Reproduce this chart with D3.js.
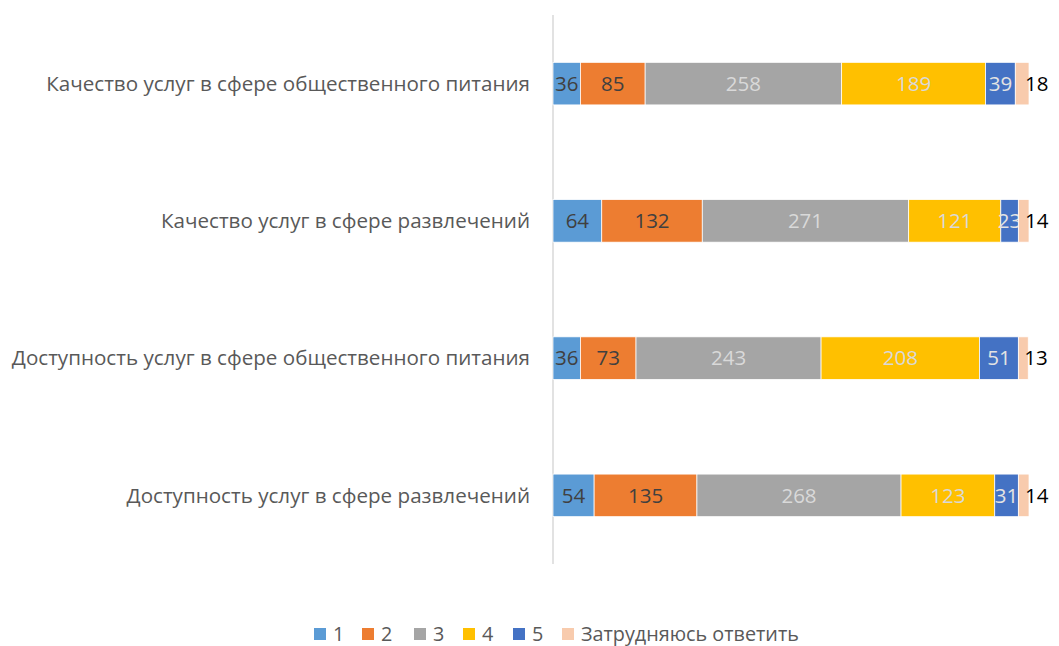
<!DOCTYPE html>
<html>
<head>
<meta charset="utf-8">
<script src="https://cdn.jsdelivr.net/npm/d3@7"></script>
<style>
  body { margin: 0; background: #fff; }
  svg { display: block; font-family: 'Open Sans', sans-serif; }
</style>
</head>
<body>
<svg id="chart"></svg>
<script>
// categories, top to bottom
const categories = [
  'Качество услуг в сфере общественного питания',
  'Качество услуг в сфере развлечений',
  'Доступность услуг в сфере общественного питания',
  'Доступность услуг в сфере развлечений'
]
const seriesNames = ['1', '2', '3', '4', '5', 'Затрудняюсь ответить']
const s1 = [36, 64, 36, 54]
const s2 = [85, 132, 73, 135]
const s3 = [258, 271, 243, 268]
const s4 = [189, 121, 208, 123]
const s5 = [39, 23, 51, 31]
const s6 = [18, 14, 13, 14]
const colors = ['#5B9BD5', '#ED7D31', '#A5A5A5', '#FFC000', '#4472C4', '#F8CBAD']
const labelColors = ['#404040', '#404040', '#d9d9d9', '#d9d9d9', '#e3e3e3', '#000']

const width = 1059, height = 646
const svg = d3.select('#chart').attr('width', width).attr('height', height)

const rows = categories.map((c, i) => ({
  cat: c, '1': s1[i], '2': s2[i], '3': s3[i], '4': s4[i], '5': s5[i], 'Затрудняюсь ответить': s6[i]
}))
const stacked = d3.stack().keys(seriesNames)(rows)

const x = d3.scaleLinear().domain([0, 625]).range([553, 1029])
const y = d3.scaleBand().domain(categories).range([15, 564])
  .paddingInner(0.69).paddingOuter(0.345)

// vertical axis line
svg.append('line')
  .attr('x1', x(0)).attr('x2', x(0))
  .attr('y1', 15).attr('y2', 564)
  .attr('stroke', '#d9d9d9').attr('stroke-width', 1.5)

// category labels
svg.append('g').selectAll('text')
  .data(categories)
  .enter().append('text')
  .attr('x', 530)
  .attr('y', d => y(d) + y.bandwidth() / 2)
  .attr('dy', '0.35em')
  .attr('text-anchor', 'end')
  .attr('font-size', '20.6px')
  .attr('fill', '#595959')
  .text(d => d)

// bars + labels, series by series
stacked.forEach((layer, si) => {
  const g = svg.append('g')
  g.selectAll('rect')
    .data(layer)
    .enter().append('rect')
    .attr('x', d => x(d[0]))
    .attr('y', d => y(d.data.cat))
    .attr('width', d => x(d[1]) - x(d[0]))
    .attr('height', y.bandwidth())
    .attr('fill', colors[si])
    .attr('stroke', '#fff')
    .attr('stroke-width', 0.75)

  const last = si === seriesNames.length - 1
  g.selectAll('text')
    .data(layer)
    .enter().append('text')
    .attr('x', d => last ? x(d[1]) - 4 : (x(d[0]) + x(d[1])) / 2)
    .attr('y', d => y(d.data.cat) + y.bandwidth() / 2)
    .attr('dy', '0.35em')
    .attr('text-anchor', last ? 'start' : 'middle')
    .attr('font-size', '20.5px')
    .attr('fill', labelColors[si])
    .text(d => d[1] - d[0])
})

// legend
const legendX = [314, 362, 414, 463, 513, 562]
const legend = svg.append('g').selectAll('g')
  .data(seriesNames)
  .enter().append('g')
  .attr('transform', (d, i) => `translate(${legendX[i]},634)`)
legend.append('rect')
  .attr('x', 0).attr('y', -6)
  .attr('width', 12).attr('height', 12)
  .attr('fill', (d, i) => colors[i])
legend.append('text')
  .attr('x', 19)
  .attr('dy', '0.35em')
  .attr('font-size', '19.8px')
  .attr('fill', '#595959')
  .text(d => d)
</script>
</body>
</html>
